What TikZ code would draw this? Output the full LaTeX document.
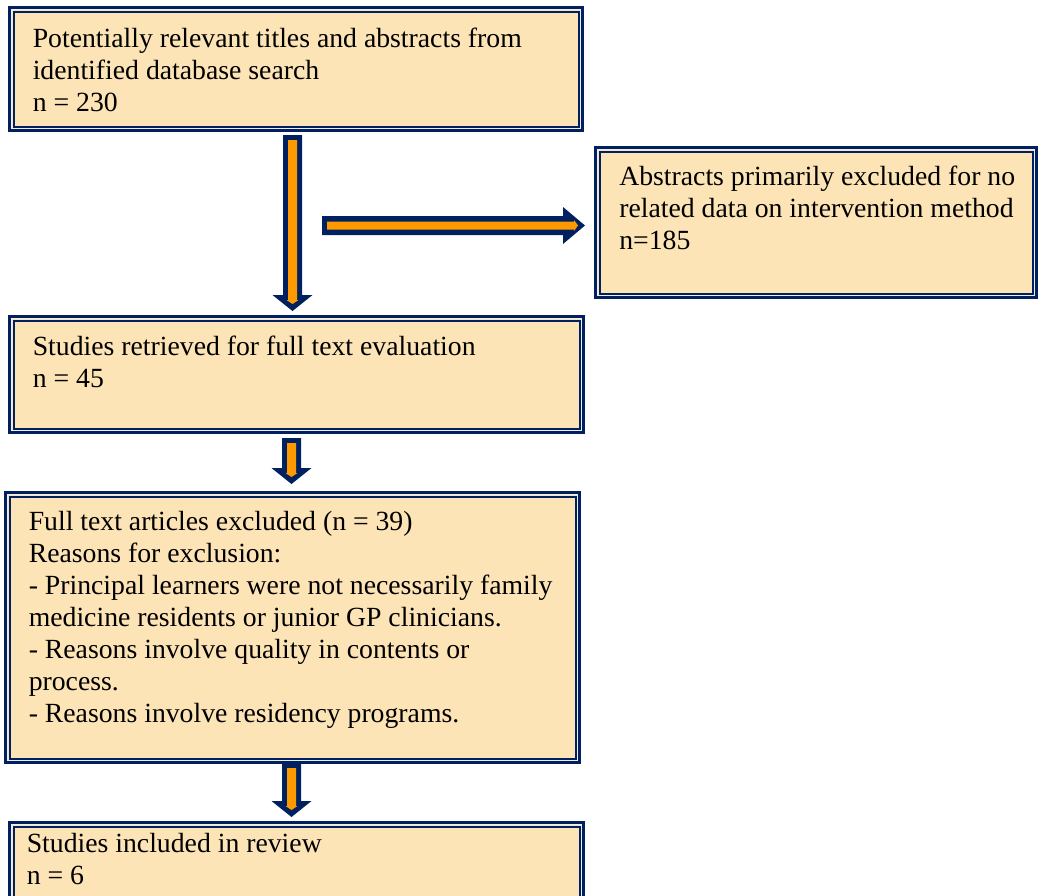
\documentclass[tikz,border=0pt]{standalone}
\usepackage{fontspec}
\setmainfont{Liberation Serif}
\usetikzlibrary{fit,calc}
\definecolor{navy}{RGB}{0,32,96}
\definecolor{peach}{RGB}{253,228,182}
\definecolor{arrorange}{RGB}{255,153,0}
\definecolor{gapc}{RGB}{236,238,244}
\newcommand\DownBlock[2]{%
  \fill[navy] let \p1=(#1), \p2=(#2) in
    (\x1-7.125pt,\y1) -- (\x1+7.125pt,\y1) -- (\x1+7.125pt,\y2+12pt) -- (\x1+15pt,\y2+12pt)
    -- (\x2,\y2) -- (\x1-15pt,\y2+12pt) -- (\x1-7.125pt,\y2+12pt) -- cycle;
  \fill[arrorange] let \p1=(#1), \p2=(#2) in
    (\x1-3.375pt,\y1-3.75pt) -- (\x1+3.375pt,\y1-3.75pt) -- (\x1+3.375pt,\y2+8.25pt) -- (\x1+4.5pt,\y2+8.25pt)
    -- (\x2,\y2+5.25pt) -- (\x1-4.5pt,\y2+8.25pt) -- (\x1-3.375pt,\y2+8.25pt) -- cycle;}
\tikzset{
  box/.style={draw=navy, line width=2.25pt, fill=peach, inner sep=0pt, outer sep=0pt},
  gapline/.style={draw=gapc, line width=1.1pt},
  innerline/.style={draw=navy, line width=1.5pt},
  txt/.style={anchor=base west, inner sep=0pt, text=black, font=\fontsize{20.8}{24}\selectfont}
}
\begin{document}
\begin{tikzpicture}[x=0.75pt,y=-0.75pt]
\useasboundingbox (0,0) rectangle (1039,896);
% boxes
\node[box, fit={(9.5,7.5) (582.5,130.5)}] (b1) {};
\node[box, fit={(595.5,147.5) (1036.5,297.5)}] (b2) {};
\node[box, fit={(9.5,316.5) (583.5,432.5)}] (b3) {};
\node[box, fit={(5.5,492.5) (579.5,762.5)}] (b4) {};
\node[box, fit={(9.5,822.5) (583.5,905)}] (b5) {};
\foreach \b in {b1,b2,b3,b4,b5}{
  \draw[gapline] ([shift={(2.25,2.25)}]\b.north west) rectangle ([shift={(-2.25,-2.25)}]\b.south east);
  \draw[innerline] ([shift={(4,4)}]\b.north west) rectangle ([shift={(-4,-4)}]\b.south east);
}
% texts
\node[txt] (t1) at (32.5,47) {\parbox[t]{520pt}{Potentially relevant titles and abstracts from\\identified database search\\n = 230}};
\node[txt] (t2) at (619,185) {\parbox[t]{320pt}{Abstracts primarily excluded for no\\related data on intervention method\\n=185}};
\node[txt] (t3) at (32.5,355) {\parbox[t]{520pt}{Studies retrieved for full text evaluation\\n = 45}};
\node[txt] (t4) at (28.5,530) {\parbox[t]{520pt}{Full text articles excluded (n = 39)\\Reasons for exclusion:\\- Principal learners were not necessarily family\\medicine residents or junior GP clinicians.\\- Reasons involve quality in contents or\\process.\\- Reasons involve residency programs.}};
\node[txt] (t5) at (26.5,852) {\parbox[t]{520pt}{Studies included in review\\n = 6}};
% arrows
\coordinate (a1s) at (292.5,135);
\coordinate (a1t) at (292.5,311);
\coordinate (a2s) at (291.5,438);
\coordinate (a2t) at (291.5,484);
\coordinate (a3s) at (291.5,763);
\coordinate (a3t) at (291.5,817);
\coordinate (hs) at (322,225.5);
\coordinate (ht) at ([xshift=-7.875pt]b2.west |- hs);
\DownBlock{a1s}{a1t}
\DownBlock{a2s}{a2t}
\DownBlock{a3s}{a3t}
\fill[navy] let \p1=(hs), \p2=(ht) in
  (\x1,\y1+7.125pt) -- (\x2-16.5pt,\y1+7.125pt) -- (\x2-16.5pt,\y1+13.875pt) -- (\x2,\y2)
  -- (\x2-16.5pt,\y1-13.875pt) -- (\x2-16.5pt,\y1-7.125pt) -- (\x1,\y1-7.125pt) -- cycle;
\fill[arrorange] let \p1=(hs), \p2=(ht) in
  (\x1+3.75pt,\y1+3pt) -- (\x2-8.25pt,\y1+3pt) -- (\x2-8.25pt,\y1+4.125pt) -- (\x2-5.25pt,\y2)
  -- (\x2-8.25pt,\y1-4.125pt) -- (\x2-8.25pt,\y1-3pt) -- (\x1+3.75pt,\y1-3pt) -- cycle;
\end{tikzpicture}
\end{document}
